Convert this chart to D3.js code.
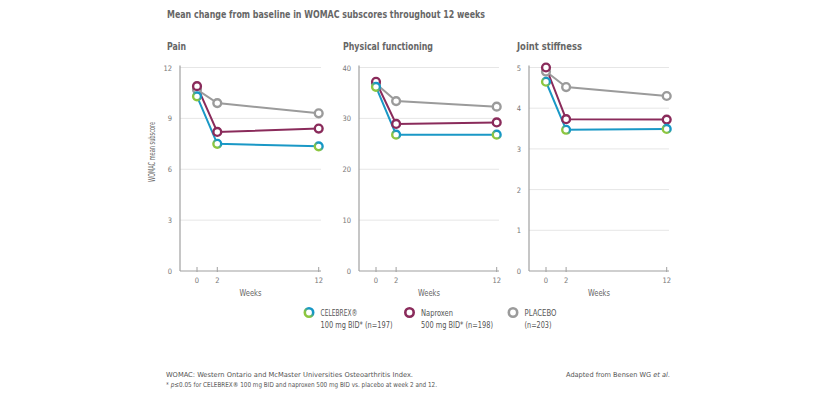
<!DOCTYPE html>
<html>
<head>
<meta charset="utf-8">
<script src="https://cdn.jsdelivr.net/npm/d3@7"></script>
<style>
  body { margin: 0; background: #fff; }
  svg { display: block; font-family: "DejaVu Sans Condensed", "Liberation Sans Narrow", sans-serif; }
</style>
</head>
<body>
<div id="chart"></div>
<script>
// data
var weeks = [0, 2, 12];
var panelTitles = ["Pain", "Physical functioning", "Joint stiffness"];
var yTicks = [[0, 3, 6, 9, 12], [0, 10, 20, 30, 40], [0, 1, 2, 3, 4, 5]];
var celebrex = [[10.3, 7.5, 7.35], [36.2, 26.8, 26.8], [4.65, 3.47, 3.49]];
var naproxen = [[10.9, 8.2, 8.4], [37.2, 28.9, 29.2], [5.0, 3.73, 3.72]];
var placebo  = [[10.7, 9.9, 9.3], [36.8, 33.4, 32.3], [4.9, 4.52, 4.3]];
var seriesNames = ["PLACEBO", "Naproxen", "CELEBREX®"];

var width = 821, height = 397;
var svg = d3.select("#chart").append("svg")
    .attr("width", width)
    .attr("height", height);

// squeeze text to the narrow width seen in the reference
function fit(sel, len) {
    sel.attr("textLength", len).attr("lengthAdjust", "spacingAndGlyphs");
    return sel;
}

var defs = svg.append("defs");
var grad = defs.append("linearGradient")
    .attr("id", "celGrad")
    .attr("x1", "0%").attr("y1", "100%")
    .attr("x2", "100%").attr("y2", "0%");
grad.append("stop").attr("offset", "30%").attr("stop-color", "#8dc63f");
grad.append("stop").attr("offset", "70%").attr("stop-color", "#1597c6");

var colors = {
    "PLACEBO": {line: "#9b9b9b", mark: "#9b9b9b"},
    "Naproxen": {line: "#8a2b5b", mark: "#8a2b5b"},
    "CELEBREX®": {line: "#1a98c6", mark: "url(#celGrad)"}
};

var textCol = "#666";

// title
fit(svg.append("text")
    .attr("x", 167)
    .attr("y", 18)
    .attr("font-size", 10.5)
    .attr("font-weight", 700)
    .attr("fill", textCol)
    .text("Mean change from baseline in WOMAC subscores throughout 12 weeks"), 318);

// panel positions
var panels = [
    {axisX: 180, x0: 197, x12: 318.7, gridEnd: 321, titleX: 167, titleW: 19},
    {axisX: 359, x0: 376, x12: 496.7, gridEnd: 499, titleX: 343, titleW: 90},
    {axisX: 529, x0: 546, x12: 666.7, gridEnd: 669, titleX: 517, titleW: 65}
];
var yTop = 67.5, yBottom = 271;

panels.forEach(function (p, i) {
    var g = svg.append("g");
    var x = d3.scaleLinear().domain([0, 12]).range([p.x0, p.x12]);
    var yMax = yTicks[i][yTicks[i].length - 1];
    var y = d3.scaleLinear().domain([0, yMax]).range([yBottom, yTop]);

    fit(g.append("text")
        .attr("x", p.titleX)
        .attr("y", 50)
        .attr("font-size", 10.5)
        .attr("font-weight", 700)
        .attr("fill", textCol)
        .text(panelTitles[i]), p.titleW);

    // gridlines
    g.selectAll(".grid")
        .data(yTicks[i].filter(function (d) { return d > 0; }))
        .enter().append("line")
        .attr("x1", p.axisX).attr("x2", p.gridEnd)
        .attr("y1", function (d) { return y(d); })
        .attr("y2", function (d) { return y(d); })
        .attr("stroke", "#e6e6e6")
        .attr("stroke-width", 1);

    // y tick labels
    g.selectAll(".ytl")
        .data(yTicks[i])
        .enter().append("text")
        .attr("x", p.axisX - 8)
        .attr("y", function (d) { return y(d) + 3; })
        .attr("text-anchor", "end")
        .attr("font-size", 7.5)
        .attr("fill", "#777")
        .text(function (d) { return d; });

    // axes lines
    g.append("line")
        .attr("x1", p.axisX).attr("x2", p.axisX)
        .attr("y1", yTop - 2).attr("y2", yBottom)
        .attr("stroke", "#a0a0a0").attr("stroke-width", 1.2);
    g.append("line")
        .attr("x1", p.axisX).attr("x2", p.gridEnd)
        .attr("y1", yBottom).attr("y2", yBottom)
        .attr("stroke", "#a0a0a0").attr("stroke-width", 1.2);

    // x ticks
    g.selectAll(".xt")
        .data(weeks)
        .enter().append("line")
        .attr("x1", function (d) { return x(d); })
        .attr("x2", function (d) { return x(d); })
        .attr("y1", yBottom - 4).attr("y2", yBottom + 1)
        .attr("stroke", "#a0a0a0").attr("stroke-width", 1);
    g.selectAll(".xtl")
        .data(weeks)
        .enter().append("text")
        .attr("x", function (d) { return x(d); })
        .attr("y", 283)
        .attr("text-anchor", "middle")
        .attr("font-size", 7.5)
        .attr("fill", "#777")
        .text(function (d) { return d; });
    fit(g.append("text")
        .attr("x", (p.axisX + p.gridEnd) / 2 - 11)
        .attr("y", 295.5)
        .attr("font-size", 8.5)
        .attr("fill", "#666")
        .text("Weeks"), 22);

    // series
    var sets = [placebo[i], naproxen[i], celebrex[i]];
    var line = d3.line()
        .x(function (d, j) { return x(weeks[j]); })
        .y(function (d) { return y(d); });
    sets.forEach(function (vals, k) {
        g.append("path")
            .datum(vals)
            .attr("d", line)
            .attr("fill", "none")
            .attr("stroke", colors[seriesNames[k]].line)
            .attr("stroke-width", 2);
    });
    sets.forEach(function (vals, k) {
        g.selectAll(".m" + k)
            .data(vals)
            .enter().append("circle")
            .attr("cx", function (d, j) { return x(weeks[j]); })
            .attr("cy", function (d) { return y(d); })
            .attr("r", 3.9)
            .attr("fill", "#fff")
            .attr("stroke", colors[seriesNames[k]].mark)
            .attr("stroke-width", 2.4);
    });
});

// y axis label
fit(svg.append("text")
    .attr("transform", "translate(155,182) rotate(-90)")
    .attr("font-size", 8)
    .attr("fill", "#666")
    .text("WOMAC mean subscore"), 60);

// legend
var legend = [
    {name: "CELEBREX®", x: 309, l1: "CELEBREX®", w1: 37, l2: "100 mg BID* (n=197)", w2: 72},
    {name: "Naproxen", x: 409.5, l1: "Naproxen", w1: 32, l2: "500 mg BID* (n=198)", w2: 72},
    {name: "PLACEBO", x: 513, l1: "PLACEBO", w1: 32, l2: "(n=203)", w2: 27}
];
var lg = svg.append("g");
legend.forEach(function (d) {
    lg.append("circle")
        .attr("cx", d.x).attr("cy", 312.5)
        .attr("r", 4.2)
        .attr("fill", "#fff")
        .attr("stroke", colors[d.name].mark)
        .attr("stroke-width", 2.6);
    fit(lg.append("text")
        .attr("x", d.x + 11.5)
        .attr("y", 315.5)
        .attr("font-size", 8.3)
        .attr("fill", "#555")
        .text(d.l1), d.w1);
    fit(lg.append("text")
        .attr("x", d.x + 11.5)
        .attr("y", 327.5)
        .attr("font-size", 8.3)
        .attr("fill", "#555")
        .text(d.l2), d.w2);
});

// footnotes
fit(svg.append("text")
    .attr("x", 166)
    .attr("y", 377)
    .attr("font-size", 6.8)
    .attr("fill", "#555")
    .text("WOMAC: Western Ontario and McMaster Universities Osteoarthritis Index."), 247);
var fn = svg.append("text")
    .attr("x", 166)
    .attr("y", 386.5)
    .attr("font-size", 6.8)
    .attr("fill", "#555");
fn.append("tspan").text("* ");
fn.append("tspan").attr("font-style", "italic").text("p");
fn.append("tspan").text("≤0.05 for CELEBREX® 100 mg BID and naproxen 500 mg BID vs. placebo at week 2 and 12.");
fit(fn, 271);

var ad = svg.append("text")
    .attr("x", 566)
    .attr("y", 377)
    .attr("font-size", 6.8)
    .attr("fill", "#555");
ad.append("tspan").text("Adapted from Bensen WG ");
ad.append("tspan").attr("font-style", "italic").text("et al.");
fit(ad, 104);
</script>
</body>
</html>
